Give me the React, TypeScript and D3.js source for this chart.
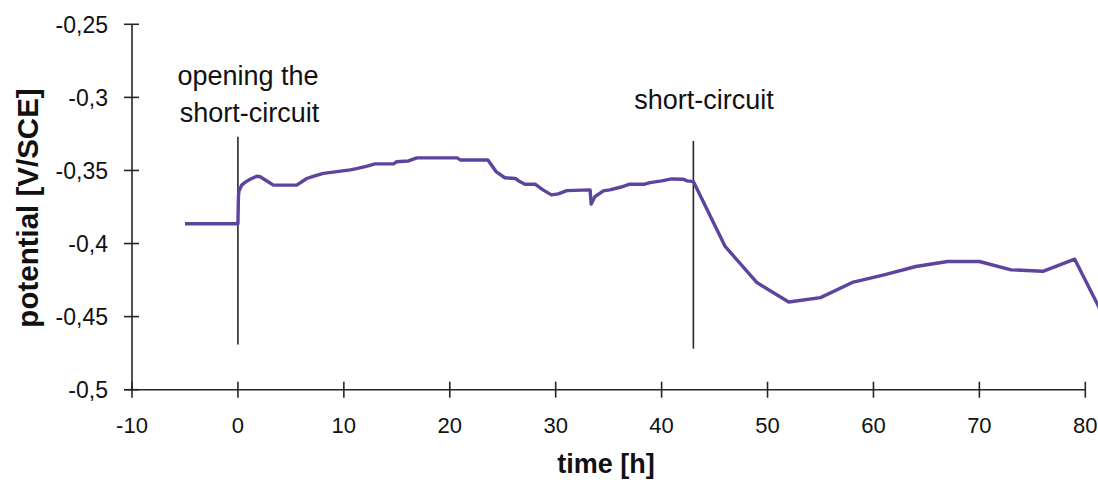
import React from "react";
import * as d3 from "d3";

// Open-circuit potential record (time in hours, potential in V vs SCE)
const hours = [
  -5, 0, 0.05, 0.1, 0.36, 0.7, 1.15, 1.77, 2.1, 2.7, 3.35, 5.55, 6.5, 7.1, 8.06,
  9.17, 10.6, 11.2, 12.2, 12.95, 14.7, 15.0, 16.1, 16.9, 20.7, 21.0, 23.6, 24.4,
  25.2, 26.2, 26.6, 27.1, 28.05, 28.8, 29.6, 30.25, 31.05, 33.25, 33.35, 33.7,
  34.5, 35.1, 36.1, 37.0, 38.4, 38.9, 40.0, 40.95, 42.06, 42.4, 43.0, 46, 49, 52,
  55, 58, 61, 64, 67, 70, 73, 76, 79, 82,
];
const potential = [
  -0.3865, -0.3865, -0.3675, -0.364, -0.36, -0.358, -0.356, -0.354, -0.3543,
  -0.357, -0.36, -0.36, -0.3555, -0.354, -0.352, -0.351, -0.3496, -0.3487,
  -0.347, -0.3455, -0.3455, -0.344, -0.3435, -0.3414, -0.3414, -0.3428, -0.3428,
  -0.351, -0.355, -0.3555, -0.3576, -0.3594, -0.3594, -0.3633, -0.3667, -0.366,
  -0.3638, -0.3633, -0.373, -0.368, -0.364, -0.3633, -0.3615, -0.3594, -0.3594,
  -0.3583, -0.3571, -0.3558, -0.356, -0.3571, -0.3576, -0.402, -0.4267, -0.44,
  -0.437, -0.4266, -0.4214, -0.4157, -0.4123, -0.4123, -0.418, -0.419, -0.4107,
  -0.4536,
];

const xTicks = [-10, 0, 10, 20, 30, 40, 50, 60, 70, 80];
const yTicks = [-0.25, -0.3, -0.35, -0.4, -0.45, -0.5];

// Event markers: time of the event, vertical extent of the marker line, label lines
const eventTimes = [0, 43];
const eventTop = [-0.327, -0.3298];
const eventBottom = [-0.4691, -0.4719];
const eventLabels = [["opening the", "short-circuit"], ["short-circuit"]];

const W = 1098;
const H = 480;
const FONT = "'Liberation Sans', Arial, Helvetica, sans-serif";
const LINE = "#5d449f";
const AXIS = "#262626";

export default function App() {
  const x = d3.scaleLinear().domain([-10, 80]).range([132, 1085.3]);
  const y = d3.scaleLinear().domain([-0.5, -0.25]).range([389.7, 24.3]);

  const pts: [number, number][] = hours.map((h, i) => [h, potential[i]]);
  const line = d3
    .line<[number, number]>()
    .x((d) => x(d[0]))
    .y((d) => y(d[1]));

  const x0 = x(-10);
  const yBase = y(-0.5);
  const fmt = (v: number) => String(v).replace(".", ",");

  return (
    <svg
      width={W}
      height={H}
      style={{ position: "absolute", left: 0, top: 0, display: "block", background: "#fff" }}
      fontFamily={FONT}
    >
      <defs>
        <clipPath id="plotClip">
          <rect x={0} y={0} width={W} height={H} />
        </clipPath>
      </defs>

      {/* y axis */}
      <line x1={x0} x2={x0} y1={y(-0.25)} y2={yBase} stroke={AXIS} strokeWidth={1.6} />
      {yTicks.map((t) => (
        <g key={"y" + t}>
          <line x1={x0 - 8} x2={x0 + 7} y1={y(t)} y2={y(t)} stroke={AXIS} strokeWidth={1.6} />
          <text
            x={108}
            y={y(t)}
            dy="0.36em"
            textAnchor="end"
            fontSize={23}
            fill="#111"
          >
            {fmt(t)}
          </text>
        </g>
      ))}

      {/* x axis */}
      <line x1={x0 - 8} x2={x(80)} y1={yBase} y2={yBase} stroke={AXIS} strokeWidth={1.6} />
      {xTicks.map((t) => (
        <g key={"x" + t}>
          <line x1={x(t)} x2={x(t)} y1={yBase - 8} y2={yBase + 8} stroke={AXIS} strokeWidth={1.6} />
          <text x={x(t)} y={433} textAnchor="middle" fontSize={22} fill="#111">
            {fmt(t)}
          </text>
        </g>
      ))}

      {/* axis titles */}
      <text x={606} y={473} textAnchor="middle" fontSize={27} fontWeight="bold" fill="#111">
        time [h]
      </text>
      <text
        transform={`translate(38,208) rotate(-90)`}
        textAnchor="middle"
        fontSize={29.5}
        fontWeight="bold"
        fill="#111"
      >
        potential [V/SCE]
      </text>

      {/* event markers */}
      {eventTimes.map((t, i) => (
        <g key={"ev" + i}>
          <line
            x1={x(t)}
            x2={x(t)}
            y1={y(eventTop[i])}
            y2={y(eventBottom[i])}
            stroke={AXIS}
            strokeWidth={1.6}
          />
        </g>
      ))}
      <text x={248} textAnchor="middle" fontSize={27} fill="#111">
        <tspan x={248} y={85}>{eventLabels[0][0]}</tspan>
        <tspan x={249.5} y={121.7}>{eventLabels[0][1]}</tspan>
      </text>
      <text x={704} y={109} textAnchor="middle" fontSize={27} fill="#111">
        {eventLabels[1][0]}
      </text>

      {/* potential curve */}
      <path
        d={line(pts) || ""}
        fill="none"
        stroke={LINE}
        strokeWidth={3.4}
        strokeLinejoin="round"
        clipPath="url(#plotClip)"
      />
    </svg>
  );
}
